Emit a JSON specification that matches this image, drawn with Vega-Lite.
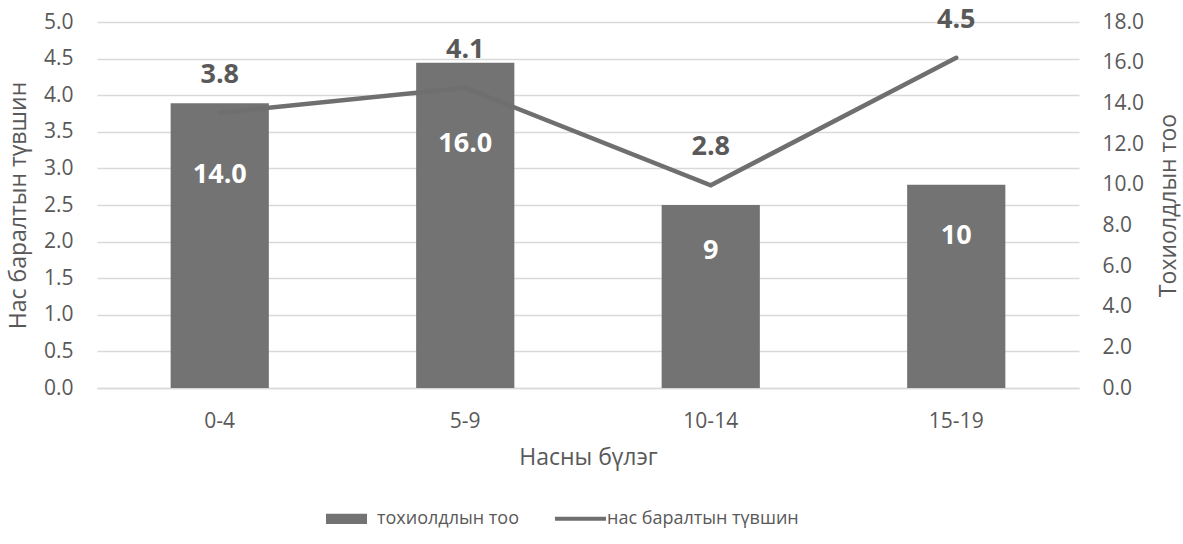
{
  "$schema": "https://vega.github.io/schema/vega-lite/v6.json",
  "width": 982,
  "height": 366,
  "autosize": "none",
  "padding": {"left": 97, "top": 22, "right": 104, "bottom": 156},
  "background": "white",
  "config": {
    "font": "Open Sans",
    "view": {"stroke": null},
    "axis": {
      "labelColor": "#595959",
      "titleColor": "#595959",
      "labelFontSize": 21,
      "titleFontSize": 23,
      "titleFontWeight": "normal",
      "ticks": false,
      "tickSize": 0,
      "gridColor": "#d9d9d9",
      "gridWidth": 1.3,
      "domain": false
    }
  },
  "data": {
    "values": [
      {"age": "0-4", "cases": 14, "caseLabel": "14.0", "rate": 3.76, "rateLabel": "3.8"},
      {"age": "5-9", "cases": 16, "caseLabel": "16.0", "rate": 4.1, "rateLabel": "4.1"},
      {"age": "10-14", "cases": 9, "caseLabel": "9", "rate": 2.77, "rateLabel": "2.8"},
      {"age": "15-19", "cases": 10, "caseLabel": "10", "rate": 4.51, "rateLabel": "4.5"}
    ]
  },
  "encoding": {
    "x": {
      "field": "age",
      "type": "nominal",
      "sort": null,
      "scale": {"paddingInner": 0.6, "paddingOuter": 0.3},
      "axis": {
        "title": "Насны бүлэг",
        "labelAngle": 0,
        "labelPadding": 22,
        "titlePadding": 15,
        "domain": true,
        "domainColor": "#d9d9d9",
        "domainWidth": 1.3,
        "grid": false
      }
    }
  },
  "layer": [
    {
      "mark": {"type": "bar", "color": "#737373"},
      "encoding": {
        "y": {
          "field": "cases",
          "type": "quantitative",
          "scale": {"domain": [0, 18], "nice": false},
          "axis": {
            "orient": "right",
            "title": "Тохиолдлын тоо",
            "titleAngle": 270,
            "titleBaseline": "top",
            "values": [0, 2, 4, 6, 8, 10, 12, 14, 16, 18],
            "format": ".1f",
            "grid": false,
            "labelPadding": 23,
            "titlePadding": 14
          }
        },
        "color": {
          "datum": "тохиолдлын тоо",
          "type": "nominal",
          "scale": {
            "domain": ["тохиолдлын тоо", "нас баралтын түвшин"],
            "range": ["#737373", "#6f6f6f"]
          },
          "legend": {
            "title": null,
            "orient": "none",
            "direction": "horizontal",
            "legendX": 229,
            "legendY": 476,
            "padding": 0,
            "symbolSize": 1681,
            "labelFontSize": 18,
            "labelColor": "#595959",
            "labelOffset": 10,
            "labelLimit": 400,
            "columnPadding": 35,
            "encode": {
              "symbols": {
                "update": {
                  "shape": {"signal": "datum.value === 'тохиолдлын тоо' ? 'M-1,-0.25H1V0.25H-1Z' : 'M-1.05,-0.1H1.44V0.1H-1.05Z'"},
                  "fill": {"value": "#737373"},
                  "stroke": {"value": "#737373"},
                  "strokeWidth": {"value": 0},
                  "opacity": {"value": 1}
                }
              }
            }
          }
        }
      }
    },
    {
      "mark": {"type": "text", "color": "white", "fontSize": 27, "fontWeight": "bold", "baseline": "middle"},
      "encoding": {
        "y": {
          "field": "cases",
          "type": "quantitative",
          "scale": {"domain": [0, 24], "nice": false},
          "axis": null
        },
        "text": {"field": "caseLabel"}
      }
    },
    {
      "layer": [
        {
          "mark": {"type": "line", "color": "#6f6f6f", "strokeWidth": 4.5, "strokeCap": "round"},
          "encoding": {
            "color": {"datum": "нас баралтын түвшин", "type": "nominal"}
          }
        },
        {
          "mark": {"type": "text", "color": "#595959", "fontSize": 27, "fontWeight": "bold", "baseline": "middle", "dy": -38},
          "encoding": {"text": {"field": "rateLabel"}}
        }
      ],
      "encoding": {
        "y": {
          "field": "rate",
          "type": "quantitative",
          "scale": {"domain": [0, 5], "nice": false},
          "axis": {
            "orient": "left",
            "title": "Нас баралтын түвшин",
            "values": [0, 0.5, 1, 1.5, 2, 2.5, 3, 3.5, 4, 4.5, 5],
            "format": ".1f",
            "grid": true,
            "labelPadding": 24,
            "titlePadding": 13
          }
        }
      }
    }
  ],
  "resolve": {"scale": {"y": "independent"}}
}
